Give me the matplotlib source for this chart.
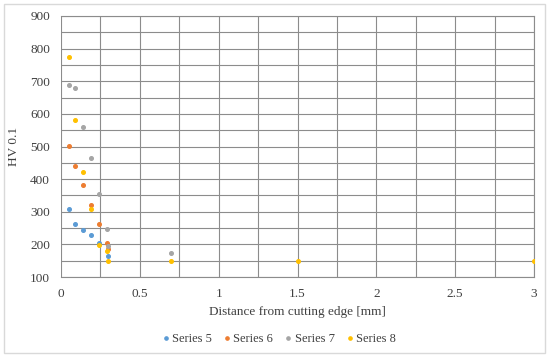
import numpy as np
import matplotlib
matplotlib.use('Agg')
from matplotlib import pyplot as plt
from matplotlib.patches import Rectangle

# data
x5 = [0.05, 0.09, 0.14, 0.19, 0.24, 0.30]
y5 = [308, 262, 244, 229, 205, 163]
x6 = [0.05, 0.09, 0.14, 0.19, 0.24, 0.29, 0.30]
y6 = [502, 441, 382, 322, 262, 204, 185]
x7 = [0.05, 0.09, 0.14, 0.19, 0.24, 0.29, 0.30, 0.70]
y7 = [690, 680, 560, 464, 355, 246, 195, 174]
x8 = [0.05, 0.09, 0.14, 0.19, 0.24, 0.29, 0.30, 0.70, 1.5, 3.0]
y8 = [773, 580, 421, 307, 197, 180, 149, 149, 149, 149]

series = [('Series 5', x5, y5, '#5B9BD5'),
          ('Series 6', x6, y6, '#ED7D31'),
          ('Series 7', x7, y7, '#A5A5A5'),
          ('Series 8', x8, y8, '#FFC000')]

plt.rcParams['font.family'] = ['Liberation Serif', 'DejaVu Serif']

fig = plt.figure(figsize=(5.5, 3.59), dpi=100)
ax = fig.add_axes([61/550, 1-277/359, (534-61)/550, (277-16)/359])

for name, xs, ys, c in series:
    ax.plot(xs, ys, 'o', color=c, markersize=2.6, label=name, zorder=3)

ax.set_xlim(0, 3)
ax.set_ylim(100, 900)
ax.set_xticks(np.arange(0, 3.01, 0.5))
ax.set_xticklabels(['0', '0.5', '1', '1.5', '2', '2.5', '3'])
ax.set_xticks(np.arange(0, 3.01, 0.25), minor=True)
ax.set_yticks(np.arange(100, 901, 100))
ax.set_yticks(np.arange(100, 901, 50), minor=True)
ax.grid(which='both', color='#8c8c8c', linewidth=0.8, zorder=0)
ax.tick_params(which='both', length=0, labelsize=9.5, colors='#404040', pad=8)
for s in ax.spines.values():
    s.set_color('#8c8c8c')
    s.set_linewidth(0.8)
ax.spines['left'].set_visible(False)

ax.set_xlabel('Distance from cutting edge [mm]', fontsize=9.5, color='#404040', labelpad=4)
ax.set_ylabel('HV 0.1', fontsize=9.5, color='#404040', labelpad=7)

fig.legend(loc='center', bbox_to_anchor=(279/550, 1-339/359), ncol=4, frameon=False,
           fontsize=9, handletextpad=0.2, columnspacing=0.9, markerscale=0.9,
           handlelength=0.6, labelcolor='#404040')

fig.patches.append(Rectangle((4/550, 1-353/359), 541/550, 349/359, transform=fig.transFigure,
                             fill=False, edgecolor='#d9d9d9', linewidth=1))

fig.savefig('out.png', dpi=100)
